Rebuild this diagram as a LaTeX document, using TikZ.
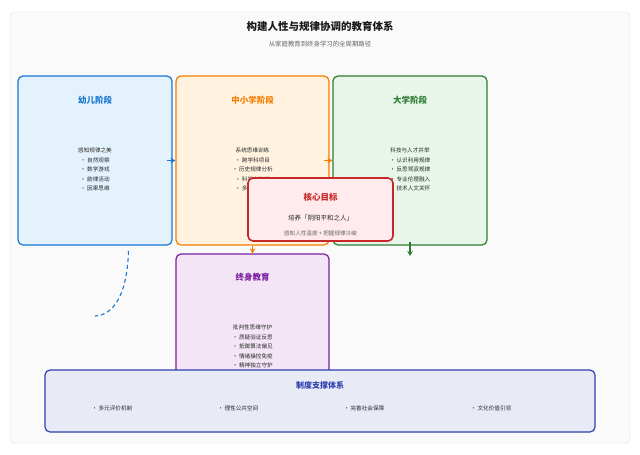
\documentclass[tikz,border=0pt]{standalone}
\usepackage{fontspec}
\setmainfont{Noto Sans CJK SC}
\usetikzlibrary{arrows.meta,positioning}
\definecolor{CardBg}{HTML}{FAFAFA}
\definecolor{CardLine}{HTML}{DDDDDD}
\definecolor{Ink}{HTML}{1A1A1A}
\definecolor{Body}{HTML}{2A2A2A}
\definecolor{Muted}{HTML}{666666}
\definecolor{KidBlue}{HTML}{1976D2}
\definecolor{KidFill}{HTML}{E3F2FD}
\definecolor{SchoolOrange}{HTML}{F57C00}
\definecolor{SchoolFill}{HTML}{FFF3E0}
\definecolor{UniGreen}{HTML}{2E7D32}
\definecolor{UniFill}{HTML}{E8F5E9}
\definecolor{CoreRed}{HTML}{C62828}
\definecolor{CoreFill}{HTML}{FFEBEE}
\definecolor{LifePurple}{HTML}{7B1FA2}
\definecolor{LifeFill}{HTML}{F3E5F5}
\definecolor{BaseIndigo}{HTML}{3040B0}
\definecolor{BaseFill}{HTML}{E8EAF6}

\begin{document}
\begin{tikzpicture}[x=1pt,y=-1pt,
    stage/.style={draw,rounded corners=5pt,line width=1.2pt,inner sep=0pt},
    stagetitle/.style={font=\fontsize{8.5}{10}\selectfont\bfseries},
    stagebody/.style={font=\fontsize{5.6}{9.6}\selectfont,text=Body,align=center},
    flow/.style={-{Stealth[length=5pt,width=5.5pt]},line width=1.1pt}]
  \useasboundingbox (0,0) rectangle (640,455);
  \fill[white] (0,0) rectangle (640,455);
  \draw[CardLine,fill=CardBg,rounded corners=4pt] (10,12) rectangle (630,443);

  % title
  \node[font=\fontsize{10.5}{12}\selectfont\bfseries,text=Ink] (title) at (320,26) {构建人性与规律协调的教育体系};
  \node[font=\fontsize{6.4}{8}\selectfont,text=Muted] (subtitle) at (320,44) {从家庭教育到终身学习的全周期路径};

  % stages
  \node[stage,draw=KidBlue,fill=KidFill,minimum width=154pt,minimum height=169pt] (kid) at (95,160.5) {};
  \node[stage,draw=SchoolOrange,fill=SchoolFill,minimum width=153pt,minimum height=169pt] (school) at (252.5,160.5) {};
  \node[stage,draw=UniGreen,fill=UniFill,minimum width=154pt,minimum height=169pt] (uni) at (410,160.5) {};
  \node[stage,draw=LifePurple,fill=LifeFill,minimum width=153pt,minimum height=136pt] (life) at (252.5,322) {};

  \node[stagetitle,text=KidBlue] (kidtitle) at (95,100) {幼儿阶段};
  \node[stagebody] (kidbody) at (95,169.5) {感知规律之美\\• 自然观察\\• 数学游戏\\• 韵律活动\\• 因果思维};
  \node[stagetitle,text=SchoolOrange] (schooltitle) at (252.5,100) {中小学阶段};
  \node[stagebody] (schoolbody) at (252.5,169.5) {系统思维训练\\• 跨学科项目\\• 历史规律分析\\• 科学方法论\\• 多角度思考};
  \node[stagetitle,text=UniGreen] (unititle) at (410,100) {大学阶段};
  \node[stagebody] (unibody) at (410,169.5) {科技与人才并举\\• 认识利用规律\\• 反思驾驭规律\\• 专业伦理融入\\• 技术人文关怀};
  \node[stagetitle,text=LifePurple] (lifetitle) at (252.5,277) {终身教育};
  \node[stagebody] (lifebody) at (252.5,346.5) {批判性思维守护\\• 质疑验证反思\\• 抵御算法偏见\\• 情绪操控免疫\\• 精神独立守护};

  % flow between stages
  \draw[flow,KidBlue] ([xshift=-6pt]kid.east) -- (school.west);
  \draw[flow,SchoolOrange] ([xshift=-6pt]school.east) -- (uni.west);
  \draw[flow,SchoolOrange] (school.south) -- (life.north);
  \coordinate (unidown) at (410,256);
  \draw[flow,UniGreen] ([yshift=4pt]uni.south) -- (unidown);
  \coordinate (kidtail) at (128.5,251);
  \coordinate (kidend) at (95,316);
  \draw[KidBlue,line width=1.1pt,dash pattern=on 4pt off 3pt] (kidtail) .. controls (127,298) and (112,315) .. (kidend);

  % core goal
  \node[stage,draw=CoreRed,fill=CoreFill,line width=1.6pt,minimum width=145pt,minimum height=63pt] (core) at (320.5,209.5) {};
  \node[stagetitle,text=CoreRed] (coretitle) at (320.5,197) {核心目标};
  \node[font=\fontsize{6.5}{8}\selectfont,text=Body] (coreaim) at (320.5,218) {培养「阴阳平和之人」};
  \node[font=\fontsize{5.6}{7}\selectfont,text=Muted] (corenote) at (320.5,233) {感知人性温度 + 把握规律冷峻};

  % support base
  \node[stage,draw=BaseIndigo,fill=BaseFill,minimum width=550pt,minimum height=62pt] (base) at (320,401) {};
  \node[stagetitle,text=BaseIndigo,font=\fontsize{8}{10}\selectfont\bfseries] (basetitle) at (320,385) {制度支撑体系};
  \foreach \x/\t [count=\i] in {112/多元评价机制,238/理性公共空间,364/完善社会保障,491/文化价值引领}{
    \node[stagebody] (base\i) at (\x,408) {• \t};
  }
\end{tikzpicture}
\end{document}
